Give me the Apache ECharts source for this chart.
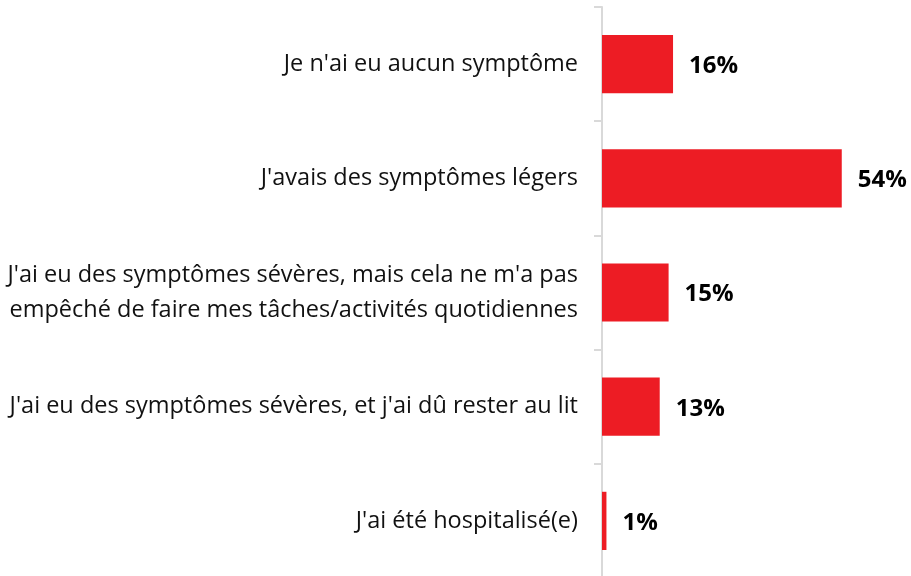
<!DOCTYPE html>
<html>
<head>
<meta charset="utf-8">
<script src="https://cdn.jsdelivr.net/npm/echarts@6/dist/echarts.min.js"></script>
<style>
  html, body { margin: 0; padding: 0; background: #fff; }
  #chart { width: 911px; height: 576px; }
</style>
</head>
<body>
<div id="chart"></div>
<script>
// catégories (de haut en bas)
const categories = [
  "Je n'ai eu aucun symptôme",
  "J'avais des symptômes légers",
  "J'ai eu des symptômes sévères, mais cela ne m'a pas\nempêché de faire mes tâches/activités quotidiennes",
  "J'ai eu des symptômes sévères, et j'ai dû rester au lit",
  "J'ai été hospitalisé(e)"
];
// pourcentages
const values = [16, 54, 15, 13, 1];

const chart = echarts.init(document.getElementById('chart'));

const option = {
  backgroundColor: '#fff',
  animation: false,
  grid: {
    left: 602,
    top: 7,
    width: 444,
    height: 571,
    outerBoundsMode: 'none'
  },
  xAxis: {
    type: 'value',
    min: 0,
    max: 100,
    show: false
  },
  yAxis: {
    type: 'category',
    data: categories,
    inverse: true,
    axisLine: { show: true, lineStyle: { color: '#D9D9D9', width: 2 } },
    axisTick: { show: true, length: 8, lineStyle: { color: '#D9D9D9', width: 2 } },
    axisLabel: {
      margin: 24,
      fontFamily: 'Open Sans',
      fontSize: 23.5,
      color: '#111',
      lineHeight: 35,
      align: 'right',
      padding: [4, 0, 0, 0]
    }
  },
  series: [
    {
      type: 'bar',
      data: values,
      barWidth: '51%',
      itemStyle: { color: '#ED1C24' },
      label: {
        show: true,
        position: 'right',
        distance: 16,
        offset: [0, 2],
        formatter: '{c}%',
        fontFamily: 'Open Sans',
        fontWeight: 'bold',
        fontSize: 24,
        color: '#000'
      }
    }
  ]
};

chart.setOption(option);
</script>
</body>
</html>
